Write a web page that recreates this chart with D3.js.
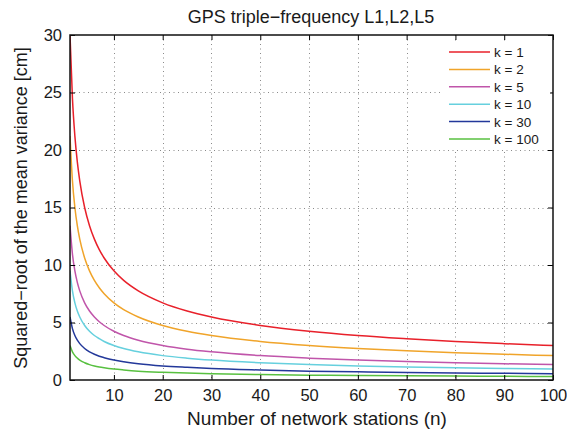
<!DOCTYPE html>
<html>
<head>
<meta charset="utf-8">
<script src="https://cdn.jsdelivr.net/npm/d3@7"></script>
<style>
  html, body { margin: 0; padding: 0; background: #fff; }
  svg { display: block; font-family: "Liberation Sans", Arial, Helvetica, sans-serif; }
</style>
</head>
<body>
<svg id="chart" width="567" height="432"></svg>
<script>
// Number of network stations at which each curve is sampled
const stations = [1, 1.5, 2, 2.5, 3, 4, 5, 6, 7, 8, 10, 12, 15, 20, 25, 30, 40, 50, 60, 70, 80, 90, 100];

// Squared-root of the mean variance [cm], one array per k
const k1   = [30.0, 24.49, 21.21, 18.97, 17.32, 15.0, 13.42, 12.25, 11.34, 10.61, 9.49, 8.66, 7.75, 6.71, 6.0, 5.48, 4.74, 4.24, 3.87, 3.59, 3.35, 3.16, 3.0];
const k2   = [21.21, 17.32, 15.0, 13.42, 12.25, 10.61, 9.49, 8.66, 8.02, 7.5, 6.71, 6.12, 5.48, 4.74, 4.24, 3.87, 3.35, 3.0, 2.74, 2.54, 2.37, 2.24, 2.12];
const k5   = [13.42, 10.95, 9.49, 8.49, 7.75, 6.71, 6.0, 5.48, 5.07, 4.74, 4.24, 3.87, 3.46, 3.0, 2.68, 2.45, 2.12, 1.90, 1.73, 1.60, 1.50, 1.41, 1.34];
const k10  = [9.49, 7.75, 6.71, 6.0, 5.48, 4.74, 4.24, 3.87, 3.59, 3.35, 3.0, 2.74, 2.45, 2.12, 1.90, 1.73, 1.50, 1.34, 1.22, 1.13, 1.06, 1.0, 0.95];
const k30  = [5.48, 4.47, 3.87, 3.46, 3.16, 2.74, 2.45, 2.24, 2.07, 1.94, 1.73, 1.58, 1.41, 1.22, 1.10, 1.0, 0.87, 0.77, 0.71, 0.65, 0.61, 0.58, 0.55];
const k100 = [3.0, 2.45, 2.12, 1.90, 1.73, 1.5, 1.34, 1.22, 1.13, 1.06, 0.95, 0.87, 0.77, 0.67, 0.6, 0.55, 0.47, 0.42, 0.39, 0.36, 0.34, 0.32, 0.3];

const seriesNames = ["k = 1", "k = 2", "k = 5", "k = 10", "k = 30", "k = 100"];
const seriesValues = [k1, k2, k5, k10, k30, k100];
const seriesColors = ["#e8202a", "#f0a42a", "#c055aa", "#66d0de", "#23389a", "#58c040"];

const xTicks = [10, 20, 30, 40, 50, 60, 70, 80, 90, 100];
const yTicks = [0, 5, 10, 15, 20, 25, 30];

const title = "GPS triple\u2212frequency L1,L2,L5";
const xLabel = "Number of network stations (n)";
const yLabel = "Squared\u2212root of the mean variance [cm]";

const svg = d3.select("#chart");
const plot = { left: 70, right: 553, top: 35, bottom: 380 };

const x = d3.scaleLinear().domain([1, 100]).range([plot.left, plot.right]);
const y = d3.scaleLinear().domain([0, 30]).range([plot.bottom, plot.top]);

// Dotted grid
const grid = svg.append("g").attr("stroke", "#8a8a8a").attr("stroke-width", 1)
  .attr("stroke-dasharray", "1,3.5");
grid.selectAll("line.vx").data(xTicks.filter(t => t < 100)).join("line")
  .attr("x1", d => Math.round(x(d)) + 0.5).attr("x2", d => Math.round(x(d)) + 0.5)
  .attr("y1", plot.top).attr("y2", plot.bottom);
grid.selectAll("line.hy").data(yTicks.filter(t => t > 0 && t < 30)).join("line")
  .attr("x1", plot.left).attr("x2", plot.right)
  .attr("y1", d => Math.round(y(d)) + 0.5).attr("y2", d => Math.round(y(d)) + 0.5);

// Curves
svg.append("clipPath").attr("id", "plotclip").append("rect")
  .attr("x", plot.left).attr("y", plot.top)
  .attr("width", plot.right - plot.left).attr("height", plot.bottom - plot.top);

const line = d3.line()
  .x((d, i) => x(stations[i]))
  .y(d => y(d))
  .curve(d3.curveMonotoneX);

svg.append("g").attr("clip-path", "url(#plotclip)")
  .selectAll("path").data(seriesValues).join("path")
  .attr("d", d => line(d))
  .attr("fill", "none")
  .attr("stroke", (d, i) => seriesColors[i])
  .attr("stroke-width", 1.5);

// Axes: inward ticks on all four sides, labels on bottom and left
const tickLen = 5;
const axisStyle = g => {
  g.select(".domain").remove();
  g.selectAll(".tick line").attr("stroke", "#000").attr("stroke-width", 1);
  g.selectAll(".tick text").attr("fill", "#1a1a1a").style("font-size", "16.5px");
};
svg.append("g").attr("transform", `translate(0,${plot.bottom})`)
  .call(d3.axisBottom(x).tickValues(xTicks).tickSize(-tickLen).tickPadding(9).tickFormat(d3.format("d")))
  .call(axisStyle);
svg.append("g").attr("transform", `translate(0,${plot.top})`)
  .call(d3.axisTop(x).tickValues(xTicks).tickSize(-tickLen).tickFormat(""))
  .call(axisStyle);
svg.append("g").attr("transform", `translate(${plot.left},0)`)
  .call(d3.axisLeft(y).tickValues(yTicks).tickSize(-tickLen).tickPadding(8).tickFormat(d3.format("d")))
  .call(axisStyle);
svg.append("g").attr("transform", `translate(${plot.right},0)`)
  .call(d3.axisRight(y).tickValues(yTicks).tickSize(-tickLen).tickFormat(""))
  .call(axisStyle);

// Frame
svg.append("rect")
  .attr("x", plot.left).attr("y", plot.top)
  .attr("width", plot.right - plot.left).attr("height", plot.bottom - plot.top)
  .attr("fill", "none").attr("stroke", "#111").attr("stroke-width", 1.5);

// Legend
const legend = svg.append("g");
legend.append("rect")
  .attr("x", 440).attr("y", 42).attr("width", 110).attr("height", 108)
  .attr("fill", "#fff");
const rowY = i => 52 + i * 17.4;
legend.selectAll("line").data(seriesNames).join("line")
  .attr("x1", 449).attr("x2", 490)
  .attr("y1", (d, i) => rowY(i)).attr("y2", (d, i) => rowY(i))
  .attr("stroke", (d, i) => seriesColors[i]).attr("stroke-width", 1.5);
legend.selectAll("text").data(seriesNames).join("text")
  .attr("x", 494).attr("y", (d, i) => rowY(i) + 5)
  .attr("fill", "#1a1a1a").style("font-size", "13.5px")
  .text(d => d);

// Titles
svg.append("text").attr("x", 311).attr("y", 23).attr("text-anchor", "middle")
  .attr("fill", "#1a1a1a").style("font-size", "18px").text(title);
svg.append("text").attr("x", 317).attr("y", 425).attr("text-anchor", "middle")
  .attr("fill", "#1a1a1a").style("font-size", "19px").text(xLabel);
svg.append("text").attr("transform", "translate(27,208) rotate(-90)")
  .attr("text-anchor", "middle")
  .attr("fill", "#1a1a1a").style("font-size", "18px").text(yLabel);
</script>
</body>
</html>
